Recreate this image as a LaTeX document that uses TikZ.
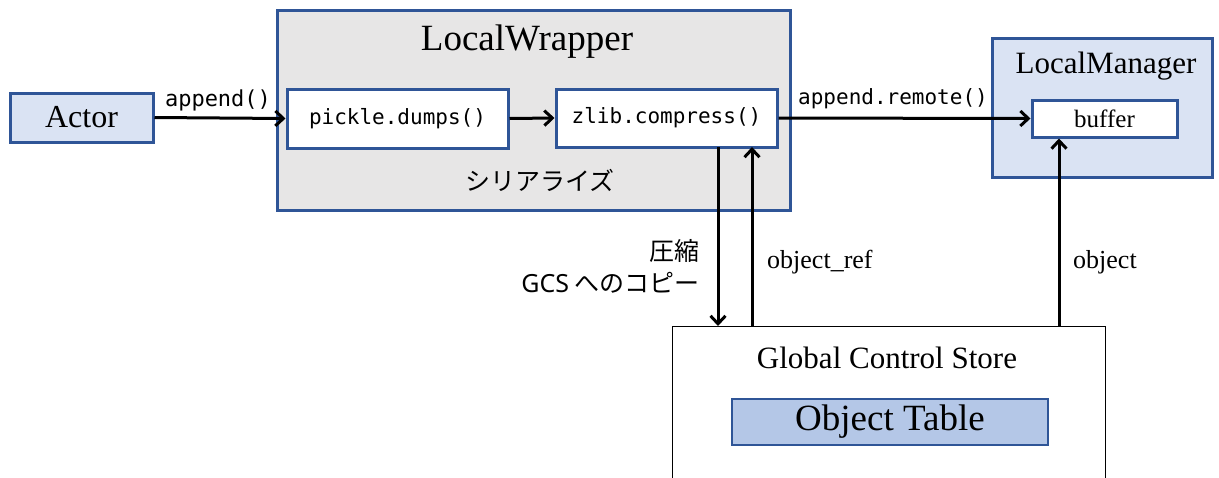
\documentclass[tikz,border=0pt]{standalone}
\usepackage{fontspec}
\setmainfont{Liberation Serif}
\setmonofont{DejaVu Sans Mono}
\newfontfamily\jpfont{Noto Sans CJK JP}
\newfontfamily\latinsans{Noto Sans}
\usetikzlibrary{arrows.meta}
\definecolor{edgeblue}{HTML}{2F5597}
\definecolor{paleblue}{HTML}{DAE3F3}
\definecolor{wrapgray}{HTML}{E7E6E6}
\definecolor{tableblue}{HTML}{B4C7E7}
\tikzset{
  box/.style={draw=edgeblue, line width=3pt, inner sep=0pt, rectangle},
  fnbox/.style={box, fill=white, font=\fontsize{21}{24}\selectfont\ttfamily},
  title/.style={inner sep=0pt, anchor=base},
  flow/.style={line width=3pt, -{Straight Barb[length=8pt,width=15pt,line width=3pt]}},
  lbl/.style={inner sep=0pt, anchor=base}
}
\begin{document}
\begin{tikzpicture}[x=1pt,y=-1pt]
  \useasboundingbox (0,0) rectangle (1219,477);
  \clip (0,0) rectangle (1219,477);
  \fill[white] (0,0) rectangle (1219,477);

  % Actor
  \node[box, fill=paleblue, minimum width=143pt, minimum height=49pt,
        font=\fontsize{32}{35}\selectfont] (actor) at (81.5,117.5) {Actor};

  % LocalWrapper with its two steps
  \node[box, fill=wrapgray, minimum width=513pt, minimum height=200pt] (wrap) at (533.5,110) {};
  \node[title, font=\fontsize{37}{40}\selectfont] (wraptitle) at (527,50) {LocalWrapper};
  \node[fnbox, minimum width=221pt, minimum height=59pt] (pickle) at (397.5,118.5) {pickle.dumps()};
  \node[fnbox, minimum width=221pt, minimum height=58pt] (zlib) at (666.5,118) {zlib.compress()};
  \node[lbl, font=\fontsize{25}{28}\selectfont\jpfont] (serial) at (540,190) {シリアライズ};

  % LocalManager with buffer
  \node[box, fill=paleblue, minimum width=220pt, minimum height=139pt] (mgr) at (1102,107.5) {};
  \node[title, font=\fontsize{31}{34}\selectfont] (mgrtitle) at (1106,73) {LocalManager};
  \node[box, fill=white, minimum width=145pt, minimum height=37pt,
        font=\fontsize{25}{28}\selectfont] (buffer) at (1104.5,118.5) {buffer};

  % Global Control Store
  \node[draw=black, line width=1.4pt, fill=white, rectangle, inner sep=0pt,
        minimum width=433pt, minimum height=180pt, anchor=north west] (gcs) at (672,326) {};
  \node[title, font=\fontsize{31}{34}\selectfont] (gcstitle) at (887,368) {Global Control Store};
  \node[draw=edgeblue, line width=1.6pt, fill=tableblue, rectangle, inner sep=0pt,
        minimum width=316pt, minimum height=46pt,
        font=\fontsize{37}{40}\selectfont] (objtable) at (890,422) {Object Table};

  % calls along the top row
  \draw[flow] (actor.east) -- (pickle.west);
  \node[lbl, font=\fontsize{22}{25}\selectfont\ttfamily] (appendlbl) at (218,106) {append()};
  \draw[flow] (pickle.east) -- (zlib.west);
  \draw[flow] (zlib.east) -- (buffer.west);
  \node[lbl, font=\fontsize{21}{24}\selectfont\ttfamily] (remotelbl) at (893,104) {append.remote()};

  % traffic with the GCS
  \coordinate (down top) at (718,147);
  \coordinate (down bot) at (718,326);
  \draw[flow] (down top) -- (down bot);
  \node[inner sep=0pt, anchor=base east, font=\fontsize{25}{28}\selectfont\jpfont] (zip) at (700,260) {圧縮};
  \node[inner sep=0pt, anchor=base east, font=\fontsize{25}{28}\selectfont\jpfont] (copy) at (700,292) {{\latinsans GCS} へのコピー};

  \coordinate (ref bot) at (752,326);
  \coordinate (ref top) at (752,147);
  \draw[flow] (ref bot) -- (ref top);
  \node[inner sep=0pt, anchor=base west, font=\fontsize{26}{29}\selectfont] (reflbl) at (767,268) {object\_ref};

  \coordinate (obj bot) at (1059,326);
  \draw[flow] (obj bot) -- (buffer.south -| obj bot);
  \node[inner sep=0pt, anchor=base west, font=\fontsize{26}{29}\selectfont] (objlbl) at (1073,268) {object};
\end{tikzpicture}
\end{document}
